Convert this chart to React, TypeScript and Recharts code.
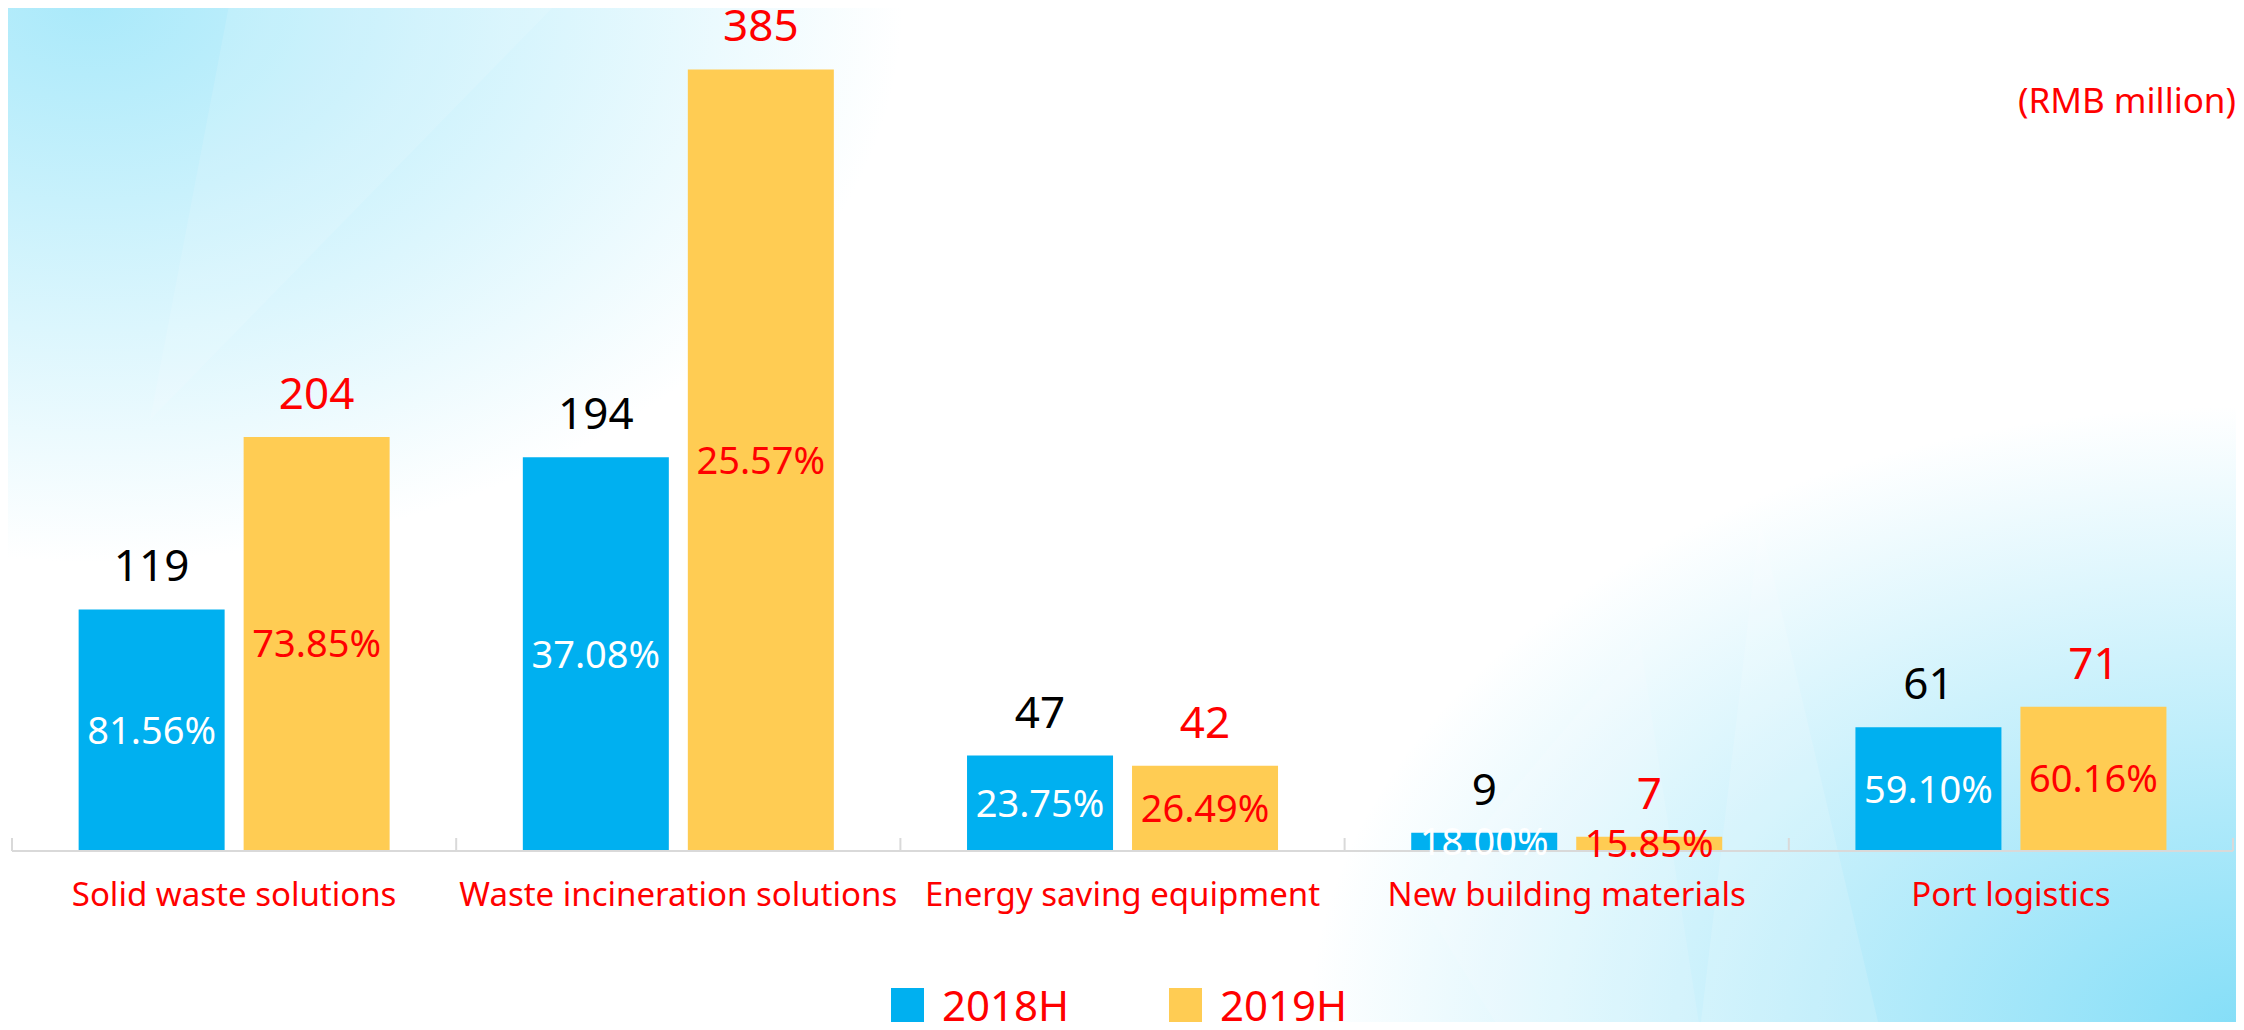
import { Bar, BarChart, LabelList, XAxis, YAxis } from "recharts";

const categories = [
  "Solid waste solutions",
  "Waste incineration solutions",
  "Energy saving equipment",
  "New building materials",
  "Port logistics",
];
const values2018 = [119, 194, 47, 9, 61];
const values2019 = [204, 385, 42, 7, 71];
const share2018 = ["81.56%", "37.08%", "23.75%", "18.00%", "59.10%"];
const share2019 = ["73.85%", "25.57%", "26.49%", "15.85%", "60.16%"];
const seriesNames = ["2018H", "2019H"];

const BLUE = "#00B0F0";
const YELLOW = "#FFCC53";
const RED = "#FF0000";
const FONT = "'Noto Sans', 'DejaVu Sans', sans-serif";

const W = 2244;
const H = 1030;
const margin = { top: 39, right: 11, bottom: 119, left: 12 };
const band = (W - margin.left - margin.right) / categories.length;

const data = categories.map((name, i) => ({
  name,
  v2018: values2018[i],
  v2019: values2019[i],
  s2018: share2018[i],
  s2019: share2019[i],
}));

// category label plus the small upward tick marks between categories
function CategoryTick(props: any) {
  const { x, y, payload, index } = props;
  const last = index === categories.length - 1;
  return (
    <g>
      <line x1={x - band / 2} x2={x - band / 2} y1={y} y2={y - 13} stroke="#d9d9d9" strokeWidth={2} />
      {last && (
        <line x1={x + band / 2} x2={x + band / 2} y1={y} y2={y - 13} stroke="#d9d9d9" strokeWidth={2} />
      )}
      <text x={x} y={y + 43} dy="0.35em" textAnchor="middle" fill={RED} fontSize={33} fontFamily={FONT}>
        {payload.value}
      </text>
    </g>
  );
}

export default function App() {
  const legend = [
    { name: seriesNames[0], color: BLUE },
    { name: seriesNames[1], color: YELLOW },
  ];
  return (
    <div
      style={{
        position: "relative",
        width: W,
        height: H,
        margin: -8,
        overflow: "hidden",
        fontFamily: FONT,
        background: [
          "radial-gradient(ellipse 1100px 760px at 4% 0%, rgba(165,232,250,0.95), rgba(255,255,255,0) 74%)",
          "radial-gradient(ellipse 1200px 800px at 100% 100%, rgba(125,220,247,0.95), rgba(255,255,255,0) 78%)",
          "#ffffff",
        ].join(","),
      }}
    >
      <svg width={W} height={H} style={{ position: "absolute", left: 0, top: 0 }}>
        <polygon points="230,0 560,0 150,420" fill="#ffffff" opacity={0.12} />
        <polygon points="1180,0 1250,0 1230,300" fill="#ffffff" opacity={0.2} />
        <polygon points="1760,520 1880,1030 1700,1030" fill="#ffffff" opacity={0.15} />
        <polygon points="1420,900 1640,640 1700,1030 1500,1030" fill="#ffffff" opacity={0.12} />
      </svg>

      <div
        style={{
          position: "absolute",
          right: 8,
          top: 78,
          color: RED,
          fontSize: 35,
          lineHeight: "44px",
        }}
      >
        (RMB million)
      </div>

      <BarChart
        width={W}
        height={H}
        data={data}
        margin={margin}
        barCategoryGap="15%"
        barGap={19}
        style={{ position: "absolute", left: 0, top: 0 }}
      >
        <XAxis
          dataKey="name"
          height={60}
          tickSize={0}
          tickMargin={0}
          tickLine={false}
          axisLine={{ stroke: "#d9d9d9", strokeWidth: 2 }}
          tick={<CategoryTick />}
          interval={0}
        />
        <YAxis hide domain={[0, 400]} />
        <Bar dataKey="v2018" name={seriesNames[0]} fill={BLUE} isAnimationActive={false}>
          <LabelList dataKey="v2018" position="top" offset={28} fill="#000000" fontSize={44} fontFamily={FONT} />
          <LabelList dataKey="s2018" position="center" fill="#ffffff" fontSize={38} fontFamily={FONT} />
        </Bar>
        <Bar dataKey="v2019" name={seriesNames[1]} fill={YELLOW} isAnimationActive={false}>
          <LabelList dataKey="v2019" position="top" offset={28} fill={RED} fontSize={44} fontFamily={FONT} />
          <LabelList dataKey="s2019" position="center" fill={RED} fontSize={38} fontFamily={FONT} />
        </Bar>
      </BarChart>

      {/* legend sits below the plot, outside the chart's layout */}
      <div
        style={{
          position: "absolute",
          top: 984,
          left: 891,
          display: "flex",
          height: 42,
          alignItems: "center",
        }}
      >
        {legend.map((item) => (
          <div key={item.name} style={{ display: "flex", alignItems: "center", width: 278 }}>
            <span style={{ width: 33, height: 34, background: item.color, marginRight: 18 }} />
            <span style={{ color: RED, fontSize: 42, lineHeight: "42px" }}>{item.name}</span>
          </div>
        ))}
      </div>
    </div>
  );
}
